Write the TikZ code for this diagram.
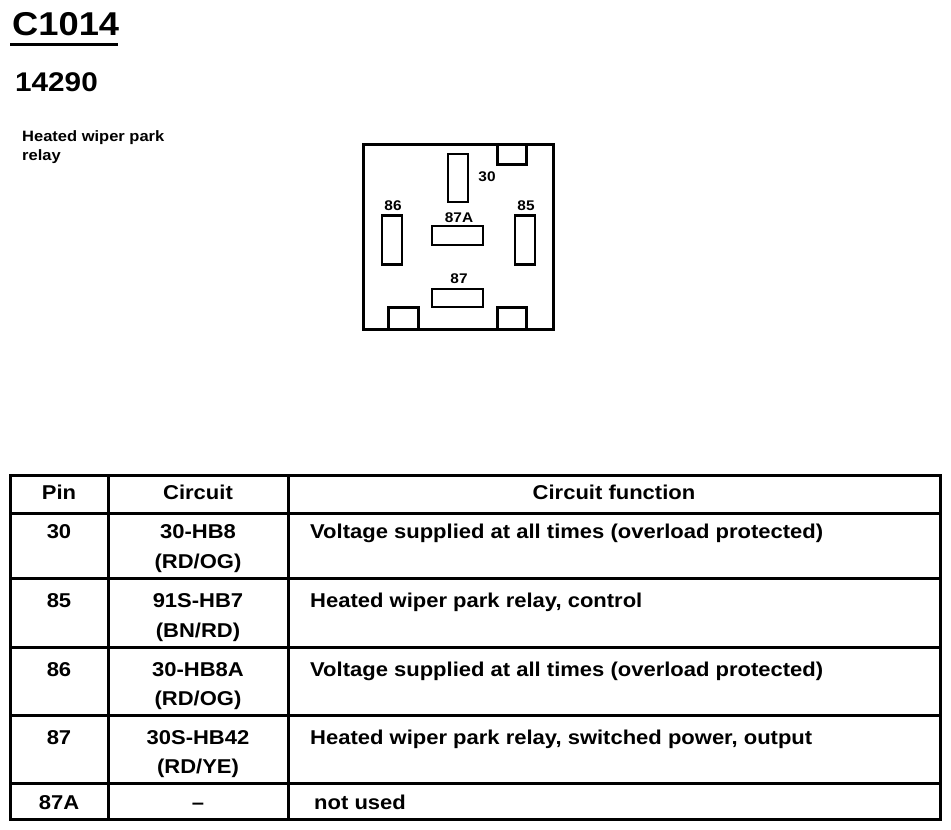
\documentclass[tikz,border=0pt]{standalone}
\usepackage{fontspec}
\setmainfont[FakeStretch=1.1]{Liberation Sans}
\tikzset{
    title/.style={inner sep=0pt, anchor=base west, font=\fontsize{33}{40}\selectfont\bfseries},
    subtitle/.style={inner sep=0pt, anchor=base west, font=\fontsize{27}{30}\selectfont\bfseries},
    caption/.style={inner sep=0pt, anchor=base west, font=\fontsize{15}{18}\selectfont\bfseries},
    slot/.style={rectangle, draw, line width=2.5pt, inner sep=0pt},
    pinlabel/.style={inner sep=0pt, font=\fontsize{14}{16}\selectfont\bfseries},
    cell/.style={inner sep=0pt, anchor=base, font=\fontsize{20}{24}\selectfont\bfseries},
    celltext/.style={inner sep=0pt, anchor=base west, font=\fontsize{20}{24}\selectfont\bfseries},
    rule/.style={line width=3pt},
}
\begin{document}
\begin{tikzpicture}[x=1pt, y=-1pt]
    \useasboundingbox (0,0) rectangle (951,830);
    % heading
    \node[title] (conn) at (12,35) {C1014};
    \draw[rule] (10,44) -- (118,44);
    \node[subtitle] (part) at (15,91) {14290};
    \node[caption] (desc1) at (22,141) {Heated wiper park};
    \node[caption] (desc2) at (22,160) {relay};
    % connector face
    \draw[rule] (363,144) rectangle (553,329);
    \draw[rule] (497,144) -- (497,164) -- (526,164) -- (526,144);
    \draw[rule] (388,329) -- (388,307) -- (418,307) -- (418,329);
    \draw[rule] (497,329) -- (497,307) -- (526,307) -- (526,329);
    \node[slot, minimum width=20pt, minimum height=48pt] (p30) at (458,178) {};
    \node[slot, minimum width=20pt, minimum height=49pt] (p86) at (392,240) {};
    \node[slot, minimum width=20pt, minimum height=49pt] (p85) at (525,240) {};
    \node[slot, minimum width=51pt, minimum height=19pt] (p87A) at (457.5,235.5) {};
    \node[slot, minimum width=51pt, minimum height=18pt] (p87) at (457.5,298) {};
    \node[pinlabel] (l30) at (487,177) {30};
    \node[pinlabel] (l86) at (393,206) {86};
    \node[pinlabel] (l85) at (526,206) {85};
    \node[pinlabel] (l87A) at (459,218) {87A};
    \node[pinlabel] (l87) at (459,279) {87};
    % table
    \draw[rule] (10,475) rectangle (940,819);
    \draw[rule] (108,475) -- (108,819);
    \draw[rule] (288,475) -- (288,819);
    \draw[rule] (10,513) -- (940,513);
    \draw[rule] (10,578) -- (940,578);
    \draw[rule] (10,647) -- (940,647);
    \draw[rule] (10,715) -- (940,715);
    \draw[rule] (10,783) -- (940,783);
    \node[cell] (hpin) at (59,499) {Pin};
    \node[cell] (hcirc) at (198,499) {Circuit};
    \node[cell] (hfunc) at (614,499) {Circuit function};
    \node[cell] (pin30) at (59,538) {30};
    \node[cell] (c30a) at (198,538) {30-HB8};
    \node[cell] (c30b) at (198,568) {(RD/OG)};
    \node[celltext] (f30) at (310,538) {Voltage supplied at all times (overload protected)};
    \node[cell] (pin85) at (59,607) {85};
    \node[cell] (c85a) at (198,607) {91S-HB7};
    \node[cell] (c85b) at (198,637) {(BN/RD)};
    \node[celltext] (f85) at (310,607) {Heated wiper park relay, control};
    \node[cell] (pin86) at (59,676) {86};
    \node[cell] (c86a) at (198,676) {30-HB8A};
    \node[cell] (c86b) at (198,705) {(RD/OG)};
    \node[celltext] (f86) at (310,676) {Voltage supplied at all times (overload protected)};
    \node[cell] (pin87) at (59,744) {87};
    \node[cell] (c87a) at (198,744) {30S-HB42};
    \node[cell] (c87b) at (198,773) {(RD/YE)};
    \node[celltext] (f87) at (310,744) {Heated wiper park relay, switched power, output};
    \node[cell] (pin87A) at (59,809) {87A};
    \node[cell] (c87A) at (198,809) {--};
    \node[celltext] (f87A) at (314,809) {not used};
\end{tikzpicture}
\end{document}
